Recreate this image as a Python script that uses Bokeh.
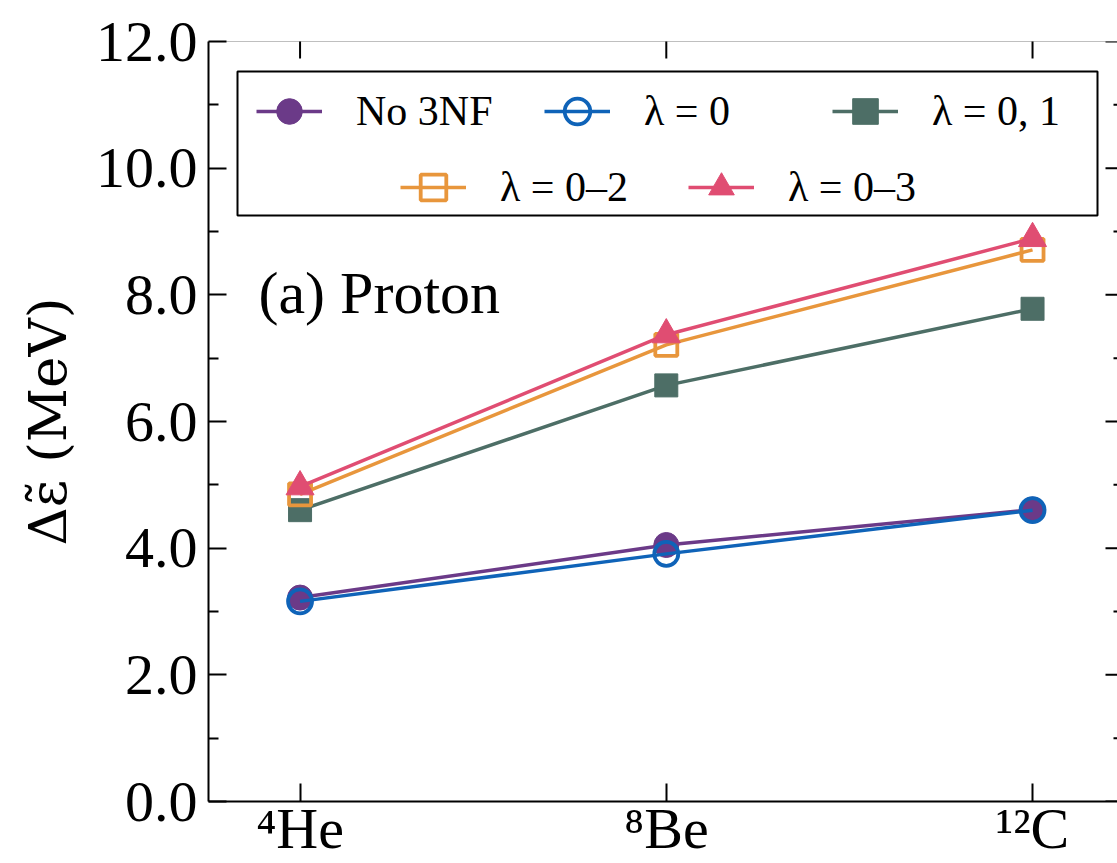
from bokeh.plotting import figure
from bokeh.models import (Range1d, FixedTicker, LinearAxis, Legend, LegendItem,
                          BoxAnnotation, Label, PrintfTickFormatter)
from bokeh.embed import file_html
from bokeh.resources import INLINE

# ---------------- data ----------------
nuclei = ["⁴He", "⁸Be", "¹²C"]
no_3nf = [3.22, 4.05, 4.61]
lam_0 = [3.16, 3.91, 4.60]
lam_01 = [4.60, 6.57, 7.78]
lam_02 = [4.85, 7.21, 8.71]
lam_03 = [4.97, 7.37, 8.89]
series_labels = ["No 3NF", "λ = 0", "λ = 0, 1", "λ = 0–2", "λ = 0–3"]
y_ticks = [0, 2, 4, 6, 8, 10, 12]
y_minor = [1, 3, 5, 7, 9, 11]

FONT = "Liberation Serif"
PURPLE = "#6b3a88"
BLUE = "#0f63b8"
GREEN = "#4d6e66"
ORANGE = "#e8963c"
PINK = "#e04d72"

W, H = 1117, 863
ML, MT, MB = 208, 41, 61
FW, FH = W - ML, H - MT - MB  # frame size in pixels

x_idx = list(range(len(nuclei)))

p = figure(width=W, height=H, output_backend="svg", toolbar_location=None,
           x_range=Range1d(-0.25, 2.232), y_range=Range1d(0, 12),
           x_axis_location=None, y_axis_location=None,
           min_border_left=ML, min_border_right=0, min_border_top=MT,
           min_border_bottom=MB)
p.outline_line_color = None
p.background_fill_color = "white"
p.border_fill_color = "white"
p.xgrid.visible = False
p.ygrid.visible = False

common = dict(major_tick_out=0, minor_tick_out=0, major_tick_line_width=2,
              minor_tick_line_width=2, major_tick_line_color="black",
              minor_tick_line_color="black", axis_line_color="black",
              axis_line_width=2)

yticker = FixedTicker(ticks=y_ticks, minor_ticks=y_minor)
xticker = FixedTicker(ticks=x_idx, minor_ticks=[])

left = LinearAxis(ticker=yticker, formatter=PrintfTickFormatter(format="%.1f"),
                  major_tick_in=18, minor_tick_in=10,
                  major_label_text_font=FONT, major_label_text_font_size="58px",
                  major_label_text_color="black", major_label_standoff=11,
                  axis_label="Δε̃ (MeV)", axis_label_text_font="DejaVu Serif",
                  axis_label_text_font_size="53px",
                  axis_label_text_font_style="normal",
                  axis_label_text_color="black", axis_label_standoff=15, **common)
p.add_layout(left, "left")

bottom = LinearAxis(ticker=xticker,
                    major_label_overrides={i: n for i, n in zip(x_idx, nuclei)},
                    major_tick_in=18, minor_tick_in=0,
                    major_label_text_font=FONT, major_label_text_font_size="58px",
                    major_label_text_color="black", major_label_standoff=-6,
                    **common)
p.add_layout(bottom, "below")

# top spine and inward ticks on the top / right edges (the right spine lies
# just beyond the picture's edge, so only the tick stubs show)
edge = dict(fill_alpha=0, line_color="black", line_width=2, line_alpha=1.0)
p.add_layout(BoxAnnotation(left=0, right=FW, top=FH, bottom=FH,
                           left_units="screen", right_units="screen",
                           top_units="screen", bottom_units="screen", **edge))
for xv in x_idx:
    p.add_layout(BoxAnnotation(left=xv, right=xv, top=FH, bottom=FH - 18,
                               left_units="data", right_units="data",
                               top_units="screen", bottom_units="screen", **edge))
for yv, ln in [(v, 12) for v in y_ticks] + [(v, 4) for v in y_minor]:
    p.add_layout(BoxAnnotation(left=FW - ln, right=FW, top=yv, bottom=yv,
                               left_units="screen", right_units="screen",
                               top_units="data", bottom_units="data", **edge))

series = [
    (no_3nf, PURPLE, "circle", True, 25),
    (lam_0, BLUE, "circle", False, 24),
    (lam_01, GREEN, "square", True, 23),
    (lam_02, ORANGE, "square", False, 22),
    (lam_03, PINK, "triangle", True, 28),
]

items = []
for (vals, col, mk, filled, sz), lab in zip(series, series_labels):
    rl = p.line(x_idx, vals, line_color=col, line_width=3.5)
    rm = p.scatter(x_idx, vals, marker=mk, size=sz, line_color=col,
                   line_width=3.8 if not filled else 1,
                   fill_color=col if filled else None)
    items.append(LegendItem(label=lab, renderers=[rl, rm]))

# legend frame
box = BoxAnnotation(left=29, right=889, top=730, bottom=586,
                    left_units="screen", right_units="screen",
                    top_units="screen", bottom_units="screen",
                    fill_color="white", fill_alpha=1.0,
                    line_color="black", line_width=2, line_alpha=1.0)
p.add_layout(box)

leg_style = dict(orientation="horizontal", glyph_width=66, glyph_height=64,
                 label_height=64, label_width=188, label_standoff=34,
                 spacing=0, padding=0, margin=0,
                 border_line_alpha=0, background_fill_alpha=0,
                 label_text_font=FONT, label_text_font_size="42px",
                 label_text_color="black")
leg1 = Legend(items=items[:3], location=(48, 658), **leg_style)
leg2 = Legend(items=items[3:], location=(192, 582), **leg_style)
p.add_layout(leg1, "center")
p.add_layout(leg2, "center")

p.add_layout(Label(x=50, y=509, x_units="screen", y_units="screen",
                   text="(a) Proton", text_font=FONT, text_font_size="60px",
                   text_baseline="middle", text_align="left", text_color="black"))

open("out.html", "w").write(file_html(p, INLINE))
